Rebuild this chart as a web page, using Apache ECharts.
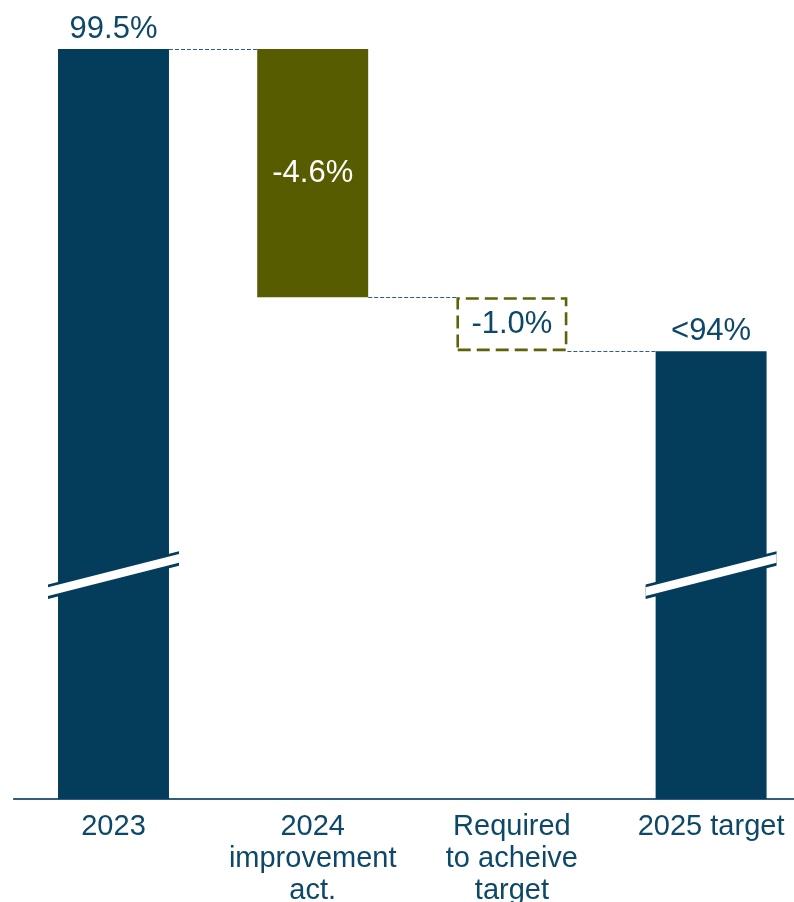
<!DOCTYPE html>
<html>
<head>
<meta charset="utf-8">
<script src="https://cdn.jsdelivr.net/npm/echarts@6/dist/echarts.min.js"></script>
<style>
  html, body { margin: 0; padding: 0; background: #ffffff; }
  #c { width: 794px; height: 902px; }
</style>
</head>
<body>
<div id="c"></div>
<script>
// Waterfall: 2023 level, 2024 improvement, remaining step, 2025 target
const categories = ['2023', '2024\nimprovement\nact.', 'Required\nto acheive\ntarget', '2025 target'];
const totals = [99.5, null, null, 93.9];          // full bars (first and last)
const steps = [null, -4.6, -1.0, null];           // changes between them
const totalLabels = ['99.5%', '', '', '<94%'];
const breakCategories = [0, 3];                   // bars drawn with a broken axis
const breakAt = 89.75;                            // value where the break mark sits

const NAVY = '#033d5b';
const OLIVE = '#585c00';
const OLIVE_LINE = '#5f6208';
const TEXT = '#0d4868';
const FONT = '"Liberation Sans", Arial, sans-serif';
const BAR_RATIO = 0.557;

// running levels for the floating steps
const levels = [];
let running = null;
for (let i = 0; i < categories.length; i++) {
  if (totals[i] != null) running = totals[i];
  else if (steps[i] != null) running = +(running + steps[i]).toFixed(2);
  levels.push(running);
}
const bases = steps.map((s, i) => s == null ? '-' : levels[i]);
const stepData = steps.map((s, i) => {
  if (s == null) return '-';
  const required = i === 2;
  return {
    value: Math.abs(s),
    itemStyle: required
      ? { color: 'rgba(0,0,0,0)', borderColor: OLIVE_LINE, borderWidth: 2.6, borderType: [13, 6] }
      : { color: OLIVE },
    label: { color: required ? TEXT : '#ffffff' }
  };
});
const connectors = [];
for (let i = 0; i < categories.length - 1; i++) connectors.push([i, levels[i]]);
const breaks = breakCategories.map(i => [i, breakAt]);

const chart = echarts.init(document.getElementById('c'), null, { renderer: 'canvas' });
chart.setOption({
  animation: false,
  backgroundColor: '#ffffff',
  grid: { left: 13.9, right: -16.7, top: 49, bottom: 103, outerBoundsMode: 'none', containLabel: false },
  xAxis: {
    type: 'category',
    data: categories,
    axisLine: { lineStyle: { color: '#2f5f7e', width: 2 } },
    axisTick: { show: false },
    axisLabel: { interval: 0, color: TEXT, fontSize: 29, lineHeight: 32, margin: 12, fontFamily: FONT }
  },
  yAxis: { type: 'value', min: 85.6, max: 99.5, show: false, splitLine: { show: false } },
  series: [
    {
      type: 'bar', stack: 'w', barWidth: (BAR_RATIO * 100) + '%',
      data: totals.map(v => v == null ? '-' : v),
      itemStyle: { color: NAVY },
      label: {
        show: true, position: 'top', distance: 4, color: TEXT, fontSize: 31, fontFamily: FONT,
        formatter: p => totalLabels[p.dataIndex]
      }
    },
    {
      type: 'bar', stack: 'w', silent: true,
      data: bases,
      itemStyle: { color: 'rgba(0,0,0,0)' }
    },
    {
      type: 'bar', stack: 'w',
      data: stepData,
      label: {
        show: true, position: 'inside', fontSize: 31, fontFamily: FONT,
        formatter: p => steps[p.dataIndex].toFixed(1) + '%'
      }
    },
    {
      // dashed connectors between neighbouring bars
      type: 'custom', z: 4, silent: true,
      data: connectors,
      renderItem: (params, api) => {
        const i = api.value(0), v = api.value(1);
        const p0 = api.coord([i, v]);
        const p1 = api.coord([i + 1, v]);
        const half = api.size([1, 0])[0] * BAR_RATIO / 2;
        const y = Math.round(p0[1]) + 0.5;
        return {
          type: 'line',
          shape: { x1: p0[0] + half, y1: y, x2: p1[0] - half, y2: y },
          style: { stroke: '#2b5f86', lineWidth: 1, lineDash: [4, 2] }
        };
      }
    },
    {
      // slanted axis-break marks across the tall bars
      type: 'custom', z: 5, silent: true,
      data: breaks,
      renderItem: (params, api) => {
        const c = api.coord([api.value(0), api.value(1)]);
        const half = api.size([1, 0])[0] * BAR_RATIO / 2 + 10;
        const k = 0.254;
        const band = (t) => [
          [c[0] - half, c[1] + k * half - t],
          [c[0] + half, c[1] - k * half - t],
          [c[0] + half, c[1] - k * half + t],
          [c[0] - half, c[1] + k * half + t]
        ];
        return {
          type: 'group',
          children: [
            { type: 'polygon', shape: { points: band(7.2) }, style: { fill: NAVY } },
            { type: 'polygon', shape: { points: band(4.4) }, style: { fill: '#ffffff' } }
          ]
        };
      }
    }
  ]
});
</script>
</body>
</html>
